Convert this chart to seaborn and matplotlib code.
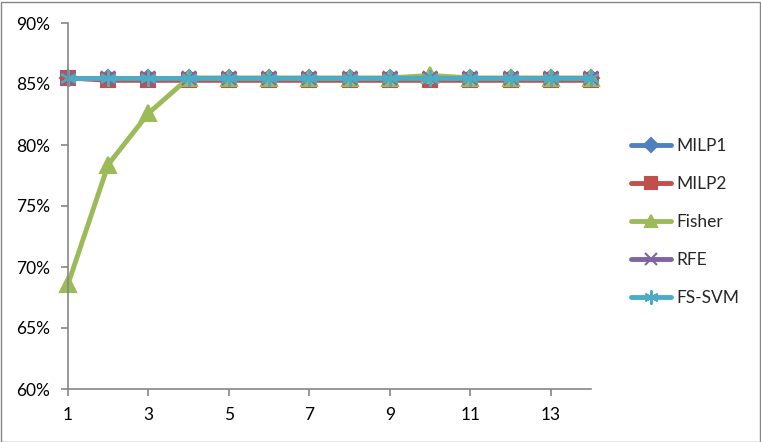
import numpy as np
import pandas as pd
import matplotlib
matplotlib.use("Agg")
import matplotlib.pyplot as plt
import seaborn as sns
from matplotlib.ticker import FuncFormatter
from matplotlib.patches import Rectangle

sns.set_style("white")
plt.rcParams['font.family'] = ['Lato', 'DejaVu Sans']

x = list(range(1, 15))
milp1 = [85.5] * 14
milp2 = [85.5] + [85.3] * 13
fisher = [68.6, 78.4, 82.6, 85.5, 85.5, 85.5, 85.5, 85.5, 85.5, 85.7, 85.5, 85.5, 85.5, 85.5]
rfe = [85.5] * 14
fssvm = [85.5] * 14

series_names = ["MILP1", "MILP2", "Fisher", "RFE", "FS-SVM"]
series_vals = [milp1, milp2, fisher, rfe, fssvm]
colors = ["#4F81BD", "#C0504D", "#9BBB59", "#8064A2", "#4BACC6"]
markers = ["D", "s", "^", "x", (6, 2, 0)]
msizes = [8, 10, 11, 10, 12]

df = pd.DataFrame({
    "x": x * 5,
    "value": sum(series_vals, []),
    "series": sum([[n] * 14 for n in series_names], []),
})

fig = plt.figure(figsize=(7.61, 4.42), dpi=100)
ax = fig.add_axes([68 / 761, 1 - 389 / 442, (591 - 68) / 761, (389 - 23) / 442])

for name, c, m, ms in zip(series_names, colors, markers, msizes):
    sub = df[df.series == name]
    sns.lineplot(data=sub, x="x", y="value", ax=ax, color=c, linewidth=3.5,
                 marker=m, markersize=ms, markeredgecolor=c, markeredgewidth=1.5,
                 label=name, clip_on=False)

ax.set_xlim(1, 14)
ax.set_ylim(60, 90)
ax.set_yticks([60, 65, 70, 75, 80, 85, 90])
ax.yaxis.set_major_formatter(FuncFormatter(lambda v, p: f"{int(v)}%"))
ax.set_xticks([1, 3, 5, 7, 9, 11, 13])
ax.set_xlabel("")
ax.set_ylabel("")
for s in ["top", "right"]:
    ax.spines[s].set_visible(False)
for s in ["left", "bottom"]:
    ax.spines[s].set_color("#868686")
    ax.spines[s].set_linewidth(1.2)
ax.tick_params(axis="both", which="major", length=5, width=1.2, color="#868686",
               labelsize=12.5, labelcolor="black", direction="out", bottom=True, left=True)
ax.tick_params(axis="y", pad=8)
ax.tick_params(axis="x", pad=8)

leg = ax.legend(loc="center left", bbox_to_anchor=(631 / 761, 1 - 222 / 442),
                bbox_transform=fig.transFigure, frameon=False, fontsize=12.5,
                handlelength=2.3, labelspacing=1.27, handletextpad=0.3,
                borderaxespad=0, borderpad=0, markerscale=0.85)

fig.patches.append(Rectangle((0.5 / 761, 0.5 / 442), 759 / 761, 440 / 442,
                             transform=fig.transFigure, fill=False,
                             edgecolor="#868686", linewidth=1))

fig.savefig("out.png", dpi=100)
